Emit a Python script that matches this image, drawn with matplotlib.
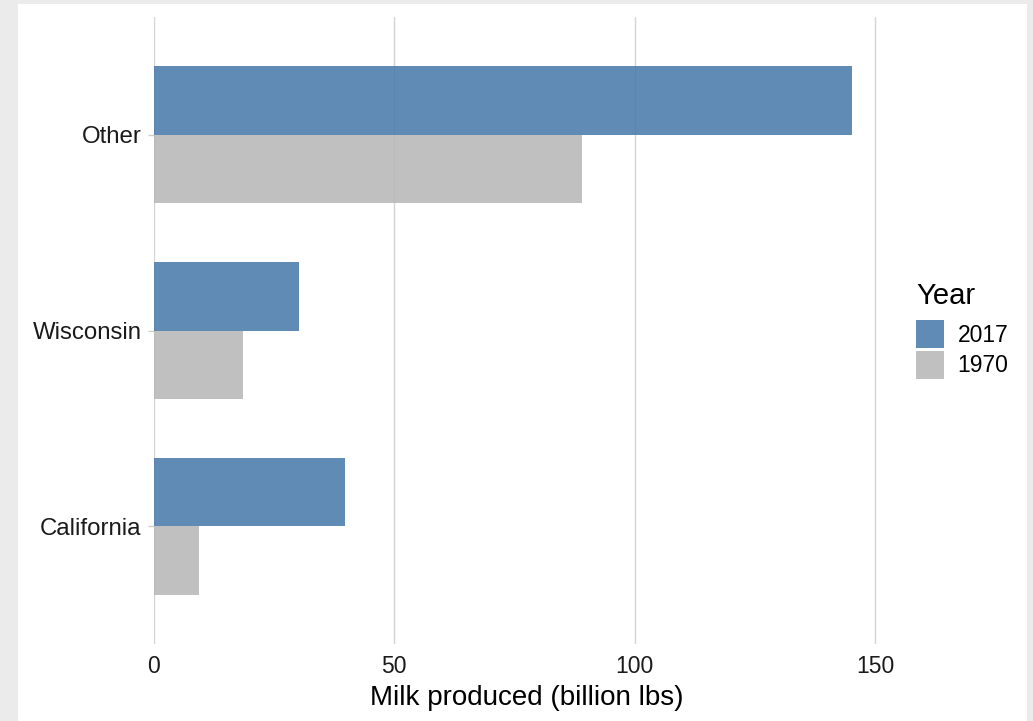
import numpy as np
import matplotlib
matplotlib.use("Agg")
import matplotlib.pyplot as plt
from matplotlib.patches import Patch, Rectangle

plt.rcParams['font.family'] = ['Liberation Sans', 'DejaVu Sans']

# data
regions = ['California', 'Wisconsin', 'Other']
milk_2017 = [39.8, 30.1, 145.2]
milk_1970 = [9.4, 18.5, 89.0]
tick_values = [0, 50, 100, 150]

blue = '#4d7ead'
grey = '#b9b9b9'

fig = plt.figure(figsize=(10.33, 7.21), dpi=100)
fig.patch.set_facecolor('#ebebeb')
# white plot background inside the grey frame
fig.patches.append(Rectangle((18 / 1033, 0), (1027 - 18) / 1033, (721 - 4) / 721,
                             transform=fig.transFigure, facecolor='white',
                             edgecolor='none', zorder=-10))

ax = fig.add_axes([154 / 1033, 1 - 644 / 721, (899 - 154) / 1033, (644 - 17) / 721])
ax.set_facecolor('none')

y = np.arange(1, len(regions) + 1)
h = 0.35
ax.barh(y + h / 2, milk_2017, height=h, color=blue, alpha=0.9, zorder=2, label='2017')
ax.barh(y - h / 2, milk_1970, height=h, color=grey, alpha=0.9, zorder=2, label='1970')

ax.set_xlim(0, 155)
ax.set_ylim(0.4, 3.6)
ax.set_xticks(tick_values)
ax.set_yticks(y)
ax.set_yticklabels(regions)
ax.grid(axis='x', color='#d4d4d4', linewidth=1.0, zorder=1)
ax.set_axisbelow(True)
for s in ax.spines.values():
    s.set_visible(False)
ax.tick_params(axis='x', length=0, pad=8, labelsize=16.5, labelcolor='#1a1a1a')
ax.tick_params(axis='y', length=4, width=1.0, color='#cccccc', pad=5,
               labelsize=17.3, labelcolor='#1a1a1a')
ax.set_xlabel('Milk produced (billion lbs)', fontsize=20, color='#000000', labelpad=5)

handles = [Patch(facecolor=blue, alpha=0.9), Patch(facecolor=grey, alpha=0.9)]
leg = fig.legend(handles, ['2017', '1970'], title='Year', loc='center left',
                 bbox_to_anchor=(905 / 1033, 1 - 330.5 / 721), frameon=False,
                 fontsize=16.5, title_fontsize=21, handlelength=1.2,
                 handleheight=1.5, labelspacing=0.12, handletextpad=0.6,
                 alignment='left', borderpad=0)
leg._legend_box.sep = 7

fig.savefig('out.png', dpi=100, facecolor=fig.get_facecolor())
